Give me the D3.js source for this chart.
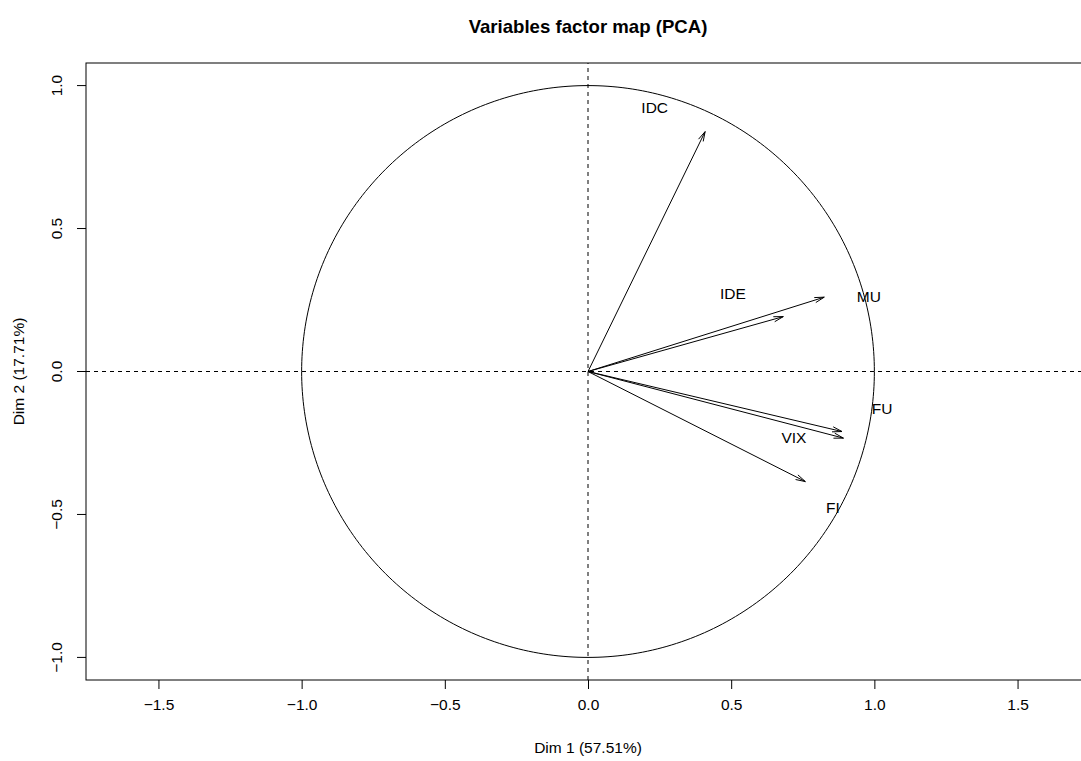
<!DOCTYPE html>
<html>
<head>
<meta charset="utf-8">
<script src="https://cdn.jsdelivr.net/npm/d3@7"></script>
<style>
  html, body { margin: 0; padding: 0; background: #fff; }
  svg { display: block; font-family: "Liberation Sans", Arial, Helvetica, sans-serif; }
</style>
</head>
<body>
<svg id="chart" width="1081" height="761"></svg>
<script>
// PCA variable coordinates (correlation circle)
const variables = ["IDC", "IDE", "MU", "FU", "VIX", "FI"];
const dim1 = [0.409, 0.682, 0.825, 0.887, 0.892, 0.759];
const dim2 = [0.839, 0.192, 0.260, -0.210, -0.233, -0.385];
// label anchor positions (in factor coordinates)
const labelX = [0.233, 0.506, 0.981, 1.027, 0.719, 0.855];
const labelY = [0.922, 0.272, 0.261, -0.130, -0.232, -0.477];

const xTicks = [-1.5, -1.0, -0.5, 0.0, 0.5, 1.0, 1.5];
const yTicks = [-1.0, -0.5, 0.0, 0.5, 1.0];
const xDomain = [-1.753, 1.753];
const yDomain = [-1.079, 1.079];

const title = "Variables factor map (PCA)";
const xTitle = "Dim 1 (57.51%)";
const yTitle = "Dim 2 (17.71%)";

const svg = d3.select("#chart");
const plot = { left: 86, right: 1090, top: 63, bottom: 680 };

const x = d3.scaleLinear().domain(xDomain).range([plot.left, plot.right]);
const y = d3.scaleLinear().domain(yDomain).range([plot.bottom, plot.top]);

const fmt = v => d3.format(".1f")(v).replace("-", "\u2212");

// frame
svg.append("rect")
  .attr("x", plot.left).attr("y", plot.top)
  .attr("width", plot.right - plot.left).attr("height", plot.bottom - plot.top)
  .attr("fill", "none").attr("stroke", "#000").attr("stroke-width", 1);

// axes
const xAxis = d3.axisBottom(x).tickValues(xTicks).tickSize(9).tickPadding(10).tickFormat(fmt);
const gx = svg.append("g").attr("transform", `translate(0,${plot.bottom})`).call(xAxis);
gx.select(".domain").remove();
gx.selectAll("text").attr("font-size", 15.5).attr("fill", "#000").attr("font-family", null);
gx.selectAll("line").attr("stroke", "#000");

const yAxis = d3.axisLeft(y).tickValues(yTicks).tickSize(9).tickFormat(fmt);
const gy = svg.append("g").attr("transform", `translate(${plot.left},0)`).call(yAxis);
gy.select(".domain").remove();
gy.selectAll("line").attr("stroke", "#000");
gy.selectAll("text")
  .attr("font-size", 15.5).attr("fill", "#000").attr("font-family", null)
  .attr("x", null).attr("dy", null)
  .attr("text-anchor", "middle")
  .attr("transform", d => `translate(${-29},${y(d) - plot.top + plot.top - y(d)}) rotate(-90)`)
  .each(function(d) {
    d3.select(this).attr("transform", `translate(-29,${y(d)}) rotate(-90)`).attr("y", 0).attr("dy", "0.35em");
  });
gy.selectAll(".tick").attr("transform", null);
gy.selectAll(".tick line").attr("y1", d => y(d)).attr("y2", d => y(d));

// clip region for plot content
svg.append("clipPath").attr("id", "clip")
  .append("rect").attr("x", plot.left).attr("y", plot.top)
  .attr("width", plot.right - plot.left).attr("height", plot.bottom - plot.top);
const g = svg.append("g").attr("clip-path", "url(#clip)");

// reference lines through origin
g.append("line")
  .attr("x1", x(xDomain[0])).attr("x2", x(xDomain[1]))
  .attr("y1", y(0)).attr("y2", y(0))
  .attr("stroke", "#000").attr("stroke-dasharray", "4,4");
g.append("line")
  .attr("x1", x(0)).attr("x2", x(0))
  .attr("y1", y(yDomain[0])).attr("y2", y(yDomain[1]))
  .attr("stroke", "#000").attr("stroke-dasharray", "4,4");

// unit circle
const circlePts = d3.range(0, 361).map(a => [Math.cos(a * Math.PI / 180), Math.sin(a * Math.PI / 180)]);
g.append("path")
  .attr("d", d3.line().x(d => x(d[0])).y(d => y(d[1]))(circlePts))
  .attr("fill", "none").attr("stroke", "#000").attr("stroke-width", 1);

// arrows
const headLen = 10, headAng = 15 * Math.PI / 180;
variables.forEach((name, i) => {
  const x0 = x(0), y0 = y(0), x1 = x(dim1[i]), y1 = y(dim2[i]);
  const ang = Math.atan2(y1 - y0, x1 - x0);
  g.append("line")
    .attr("x1", x0).attr("y1", y0).attr("x2", x1).attr("y2", y1)
    .attr("stroke", "#000").attr("stroke-width", 1);
  const p1 = [x1 - headLen * Math.cos(ang - headAng), y1 - headLen * Math.sin(ang - headAng)];
  const p2 = [x1 - headLen * Math.cos(ang + headAng), y1 - headLen * Math.sin(ang + headAng)];
  g.append("path")
    .attr("d", `M${p1[0]},${p1[1]}L${x1},${y1}L${p2[0]},${p2[1]}`)
    .attr("fill", "none").attr("stroke", "#000").attr("stroke-width", 1);
  g.append("text")
    .attr("x", x(labelX[i])).attr("y", y(labelY[i]))
    .attr("dy", "0.35em").attr("text-anchor", "middle")
    .attr("font-size", 15.5).attr("fill", "#000")
    .text(name);
});

// titles
svg.append("text")
  .attr("x", (plot.left + plot.right) / 2).attr("y", 33)
  .attr("text-anchor", "middle").attr("font-weight", "bold").attr("font-size", 18.6)
  .text(title);
svg.append("text")
  .attr("x", (plot.left + plot.right) / 2).attr("y", 748).attr("dy", "0.35em")
  .attr("text-anchor", "middle").attr("font-size", 15.5)
  .text(xTitle);
svg.append("text")
  .attr("transform", `translate(19,${(plot.top + plot.bottom) / 2}) rotate(-90)`)
  .attr("dy", "0.35em")
  .attr("text-anchor", "middle").attr("font-size", 15.5)
  .text(yTitle);
</script>
</body>
</html>
